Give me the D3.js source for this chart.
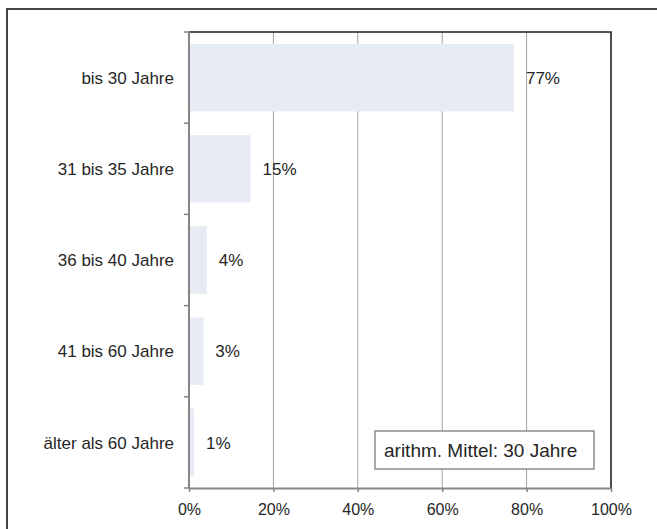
<!DOCTYPE html>
<html>
<head>
<meta charset="utf-8">
<script src="https://cdn.jsdelivr.net/npm/d3@7"></script>
<style>
  body { margin: 0; background: #fff; }
  text { font-family: "Liberation Sans", Arial, sans-serif; fill: #262626; }
</style>
</head>
<body>
<div id="chart"></div>
<script>
// data
var categories = ["bis 30 Jahre", "31 bis 35 Jahre", "36 bis 40 Jahre", "41 bis 60 Jahre", "älter als 60 Jahre"];
var shares = [77, 14.6, 4.2, 3.4, 1.2];
var valueLabels = ["77%", "15%", "4%", "3%", "1%"];
var xTicks = [0, 20, 40, 60, 80, 100];
var note = "arithm. Mittel: 30 Jahre";

var svgWidth = 657;
var svgHeight = 529;

var margin = { top: 32, right: 46, bottom: 41, left: 189 };
var width = svgWidth - margin.left - margin.right;
var height = svgHeight - margin.top - margin.bottom;

var svg = d3.select("#chart")
    .append("svg")
    .attr("width", svgWidth)
    .attr("height", svgHeight);

// outer frame (only top and left edges are inside the picture)
svg.append("path")
    .attr("d", "M7,540 V9 H670")
    .attr("fill", "none")
    .attr("stroke", "#444")
    .attr("stroke-width", 2);

var chartGroup = svg.append("g")
    .attr("transform", `translate(${margin.left}, ${margin.top})`);

var x = d3.scaleLinear()
    .domain([0, 100])
    .range([0, width]);

var y = d3.scaleBand()
    .domain(categories)
    .range([0, height])
    .paddingInner(0.26)
    .paddingOuter(0.13);

// vertical gridlines
chartGroup.selectAll(".grid")
    .data(xTicks.slice(1, -1))
    .enter()
    .append("line")
    .attr("x1", d => x(d))
    .attr("x2", d => x(d))
    .attr("y1", 0)
    .attr("y2", height)
    .attr("stroke", "#a3a3a3")
    .attr("stroke-width", 1);

// bars
chartGroup.selectAll(".bar")
    .data(shares)
    .enter()
    .append("rect")
    .attr("x", x(0))
    .attr("y", (d, i) => y(categories[i]))
    .attr("width", d => x(d) - x(0))
    .attr("height", y.bandwidth())
    .attr("fill", "#e7ecf4");

// value labels
chartGroup.selectAll(".val")
    .data(shares)
    .enter()
    .append("text")
    .attr("x", d => x(d) + 12)
    .attr("y", (d, i) => y(categories[i]) + y.bandwidth() / 2)
    .attr("dy", "0.36em")
    .style("font-size", "17px")
    .text((d, i) => valueLabels[i]);

// top and right border of plot
chartGroup.append("path")
    .attr("d", `M0,0 H${width} V${height}`)
    .attr("fill", "none")
    .attr("stroke", "#222")
    .attr("stroke-width", 1.6);

// bottom axis
var xAxis = d3.axisBottom(x)
    .tickValues(xTicks)
    .tickSize(4)
    .tickSizeOuter(0)
    .tickFormat(d => d + "%");

var gx = chartGroup.append("g")
    .attr("transform", `translate(0, ${height})`)
    .call(xAxis);
gx.select(".domain").attr("stroke", "#858585").attr("stroke-width", 2);
gx.selectAll(".tick line").attr("stroke", "#858585").attr("stroke-width", 1.5);
gx.selectAll(".tick text")
    .attr("y", 27)
    .attr("dy", null)
    .style("font-size", "16px")
    .style("font-family", "Liberation Sans, Arial, sans-serif")
    .attr("fill", "#262626");

// left axis: labels at band centres, ticks at band edges
var yAxis = d3.axisLeft(y)
    .tickSize(0)
    .tickPadding(15);

var gy = chartGroup.append("g").call(yAxis);
gy.select(".domain").remove();
gy.selectAll(".tick text")
    .attr("dy", "0.36em")
    .style("font-size", "17px")
    .style("font-family", "Liberation Sans, Arial, sans-serif")
    .attr("fill", "#262626");

var edges = categories.map(c => y(c) - y.step() * y.paddingInner() / 2);
edges.push(height);

chartGroup.selectAll(".ytick")
    .data(edges)
    .enter()
    .append("line")
    .attr("x1", -5)
    .attr("x2", 0)
    .attr("y1", d => d)
    .attr("y2", d => d)
    .attr("stroke", "#858585")
    .attr("stroke-width", 1.5);

chartGroup.append("line")
    .attr("x1", 0)
    .attr("x2", 0)
    .attr("y1", 0)
    .attr("y2", height)
    .attr("stroke", "#858585")
    .attr("stroke-width", 2);

// note box
var noteGroup = svg.append("g")
    .attr("transform", "translate(375, 431)");

noteGroup.append("rect")
    .attr("width", 219)
    .attr("height", 38)
    .attr("fill", "#fff")
    .attr("stroke", "#8c8c8c")
    .attr("stroke-width", 1.5);

noteGroup.append("text")
    .attr("x", 9)
    .attr("y", 26)
    .style("font-size", "19px")
    .text(note);
</script>
</body>
</html>
